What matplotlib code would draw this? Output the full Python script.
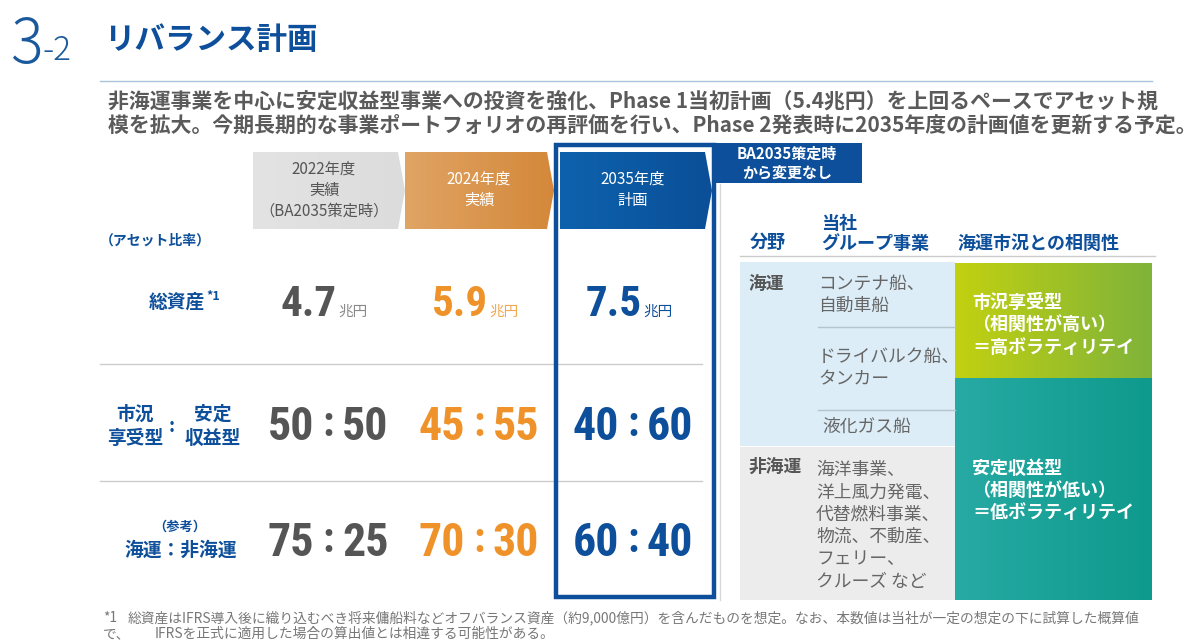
import numpy as np
import matplotlib
matplotlib.use("Agg")
import matplotlib.pyplot as plt
from matplotlib import font_manager
from matplotlib.patches import Polygon, Rectangle
from matplotlib.colors import to_rgb

plt.rcParams["font.family"] = ["Noto Sans CJK JP", "DejaVu Sans"]

# ---- data ----
periods = ["2022年度\n実績\n（BA2035策定時）", "2024年度\n実績", "2035年度\n計画"]
total_assets = [4.7, 5.9, 7.5]          # 兆円
market_vs_stable = [(50, 50), (45, 55), (40, 60)]
shipping_vs_non = [(75, 25), (70, 30), (60, 40)]

shipping_items = ["コンテナ船、\n自動車船", "ドライバルク船、\nタンカー", "液化ガス船"]
non_shipping_items = ["海洋事業、", "洋上風力発電、", "代替燃料事業、", "物流、不動産、", "フェリー、", "クルーズ など"]
high_corr = ["市況享受型", "（相関性が高い）", "＝高ボラティリテイ"]
low_corr = ["安定収益型", "（相関性が低い）", "＝低ボラティリテイ"]

title = "リバランス計画"
lead = ["非海運事業を中心に安定収益型事業への投資を強化、Phase 1当初計画（5.4兆円）を上回るペースでアセット規",
        "模を拡大。今期長期的な事業ポートフォリオの再評価を行い、Phase 2発表時に2035年度の計画値を更新する予定。"]
note1 = "総資産はIFRS導入後に織り込むべき将来傭船料などオフバランス資産（約9,000億円）を含んだものを想定。なお、本数値は当社が一定の想定の下に試算した概算値"
note2 = "IFRSを正式に適用した場合の算出値とは相違する可能性がある。"

BLUE = "#0d4f9a"
ORANGE = "#ee9229"
GRAY = "#555555"

names = {f.name for f in font_manager.fontManager.ttflist}
NUM_FONT = "Noto Sans CJK JP"
for cand in ["Roboto Condensed", "Liberation Sans Narrow", "DejaVu Sans Condensed"]:
    if cand in names:
        NUM_FONT = cand
        break
NUM_FAMILY = [NUM_FONT, "Noto Sans CJK JP"]

fig = plt.figure(figsize=(12, 6.4), dpi=100)
ax = fig.add_axes([0, 0, 1, 1])
ax.axis("off")


def gradient_poly(verts, c0, c1, z=1):
    poly = Polygon(verts, closed=True, facecolor="none", edgecolor="none", zorder=z)
    ax.add_patch(poly)
    xs = [v[0] for v in verts]
    ys = [v[1] for v in verts]
    t = np.linspace(0, 1, 256)[None, :, None]
    arr = (1 - t) * np.array(to_rgb(c0)) + t * np.array(to_rgb(c1))
    im = ax.imshow(arr, extent=(min(xs), max(xs), max(ys), min(ys)),
                   aspect="auto", zorder=z, interpolation="bilinear")
    im.set_clip_path(poly)


def chevron(x0, x1, y0, y1, tip=7):
    ym = (y0 + y1) / 2
    return [(x0, y0), (x1, y0), (x1 + tip, ym), (x1, y1), (x0, y1)]


# ---- title ----
ax.text(10, 63, "3", fontsize=44, color="#1a5a9c", weight="light", va="baseline")
ax.text(42, 60, "-2", fontsize=24, color="#1a5a9c", weight="light", va="baseline")
ax.text(104, 49, title, fontsize=22, color=BLUE, weight="bold", va="baseline")
ax.plot([100, 1152], [81, 81], color="#a9c4dc", lw=1)
for i, line in enumerate(lead):
    ax.text(108, 101 + i * 24, line, fontsize=15, color="#5a5a5a", weight="bold", va="center")

# ---- period headers ----
col_x = [328, 479, 633]
gradient_poly(chevron(253, 398, 152, 229), "#e3e3e3", "#dcdcdc")
gradient_poly(chevron(405, 547, 152, 229), "#e0a464", "#d4883a")
gradient_poly(chevron(560, 705, 152, 229), "#0e62ad", "#0a4f98", z=3)
hdr_colors = ["#555555", "white", "white"]
for x, lab, c in zip(col_x, periods, hdr_colors):
    ax.text(x - 4 if c == "#555555" else x, 190, lab, fontsize=11, color=c,
            ha="center", va="center", linespacing=1.3, zorder=4)

ax.add_patch(Rectangle((556, 145), 158, 452, facecolor="none", edgecolor=BLUE, lw=3.2, zorder=5))
ax.add_patch(Rectangle((712, 143), 150, 40, facecolor=BLUE, edgecolor="none", zorder=6))
ax.text(787, 163, "BA2035策定時\nから変更なし", fontsize=10.8, color="white", weight="bold",
        ha="center", va="center", linespacing=1.2, zorder=7)
ax.plot([720, 720], [184, 600], color="#d8d8d8", lw=1)

# ---- row labels ----
LAB = dict(fontsize=13.5, color=BLUE, weight="bold", va="center")
ax.text(100, 241, "（アセット比率）", fontsize=10, color=BLUE, weight="bold", va="center", ha="left")
ax.text(205, 302, "総資産", ha="right", **LAB)
ax.text(206, 296, "*1", fontsize=9, color=BLUE, weight="bold", va="center", ha="left")
ax.text(135, 414, "市況", ha="center", **LAB)
ax.text(135, 438, "享受型", ha="center", **LAB)
ax.text(172, 427, ":", ha="center", **LAB)
ax.text(213, 414, "安定", ha="center", **LAB)
ax.text(213, 438, "収益型", ha="center", **LAB)
ax.text(180, 527, "（参考）", fontsize=9.5, color=BLUE, weight="bold", va="center", ha="center")
ax.text(181, 550, "海運：非海運", ha="center", **LAB)

for y in [364, 481]:
    ax.plot([100, 702], [y, y], color="#cccccc", lw=1, zorder=2)

# ---- values ----
val_colors = ["#555555", ORANGE, BLUE]
unit_colors = ["#888888", "#f0a850", BLUE]
for x, v, c, uc in zip(col_x, total_assets, val_colors, unit_colors):
    ax.text(x + 9, 316, f"{v:.1f}", fontsize=31, color=c, weight="bold", ha="right",
            va="baseline", family=NUM_FAMILY)
    ax.text(x + 10, 316, "兆円", fontsize=10.5, color=uc, ha="left", va="baseline")

for rowy, pairs in [(427, market_vs_stable), (543, shipping_vs_non)]:
    for x, (a, b), c in zip(col_x, pairs, val_colors):
        ax.text(x - 14, rowy, f"{a}", fontsize=33, color=c, weight="bold", ha="right",
                va="center", family=NUM_FAMILY)
        ax.text(x, rowy - 2, ":", fontsize=30, color=c, weight="bold", ha="center",
                va="center", family=NUM_FAMILY)
        ax.text(x + 14, rowy, f"{b}", fontsize=33, color=c, weight="bold", ha="left",
                va="center", family=NUM_FAMILY)

# ---- right table ----
HD = dict(fontsize=13, color=BLUE, weight="bold", va="center")
ax.text(750, 243, "分野", **HD)
ax.text(821, 233.5, "当社\nグループ事業", linespacing=1.12, **HD)
ax.text(957, 243, "海運市況との相関性", **HD)
ax.plot([740, 1155], [256, 256], color="#cccccc", lw=1)

ax.add_patch(Rectangle((740, 262), 215, 184, facecolor="#dcedf7", edgecolor="none"))
ax.add_patch(Rectangle((740, 447), 215, 153, facecolor="#ececec", edgecolor="none"))
gradient_poly([(955, 263), (1152, 263), (1152, 378), (955, 378)], "#c2d110", "#7fb33a")
gradient_poly([(955, 378), (1152, 378), (1152, 600), (955, 600)], "#27aaa4", "#0e9a8c")

ax.text(748, 284, "海運", fontsize=12.8, color=GRAY, weight="bold", va="center")
ax.text(748, 467, "非海運", fontsize=12.8, color=GRAY, weight="bold", va="center")
item_y = [295, 368, 427]
for y, it in zip(item_y, shipping_items):
    ax.text(818 if it != "液化ガス船" else 822, y, it, fontsize=12.8, color="#666666",
            va="center", linespacing=1.3)
for y in [327, 410]:
    ax.plot([818, 955], [y, y], color="#b8c4cc", lw=1)
for i, it in enumerate(non_shipping_items):
    ax.text(816, 470 + i * 22.3, it, fontsize=12.8, color="#666666", va="center")

for i, t in enumerate(high_corr):
    ax.text(972, 302 + i * 22.5, t, fontsize=13, color="white", weight="bold", va="center")
for i, t in enumerate(low_corr):
    ax.text(972, 468 + i * 22.5, t, fontsize=13, color="white", weight="bold", va="center")

# ---- footnote ----
FN = dict(fontsize=9.9, color="#777777", va="center")
ax.text(103, 618, "*1", **FN)
ax.text(128, 618, note1, **FN)
ax.text(103, 634, "で、", **FN)
ax.text(155, 634, note2, **FN)

ax.set_xlim(0, 1200)
ax.set_ylim(640, 0)
fig.savefig("out.png", dpi=100)
